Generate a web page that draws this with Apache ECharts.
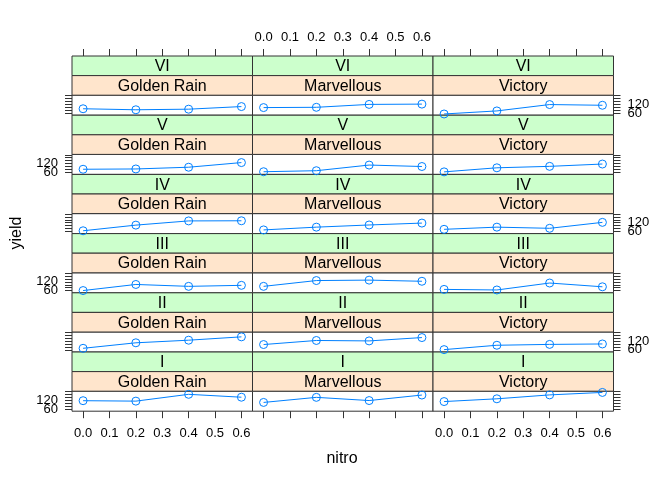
<!DOCTYPE html>
<html>
<head>
<meta charset="utf-8">
<script src="https://cdn.jsdelivr.net/npm/echarts@6/dist/echarts.min.js"></script>
<style>html,body{margin:0;padding:0;background:#fff;}#c{width:672px;height:480px;}</style>
</head>
<body>
<div id="c"></div>
<script>
// Data (Oats: yield by nitrogen, variety and block)
const nitro = [0.0, 0.2, 0.4, 0.6];
const blocks = ['I', 'II', 'III', 'IV', 'V', 'VI'];
const varieties = ['Golden Rain', 'Marvellous', 'Victory'];
// per block I..VI, values at nitro 0.0, 0.2, 0.4, 0.6
const goldenRain = [[117, 114, 161, 141], [70, 108, 126, 149], [60, 102, 89, 96], [64, 103, 132, 133], [80, 82, 94, 126], [89, 82, 86, 104]];
const marvellous = [[105, 140, 118, 156], [96, 124, 121, 144], [89, 129, 132, 124], [70, 89, 104, 117], [63, 70, 109, 99], [97, 99, 119, 121]];
const victory = [[111, 130, 157, 174], [61, 91, 97, 100], [68, 64, 112, 86], [74, 89, 81, 122], [62, 90, 100, 116], [53, 74, 118, 113]];
const xTicks = [0.0, 0.1, 0.2, 0.3, 0.4, 0.5, 0.6];
const yTicks = [60, 80, 100, 120, 140, 160, 180];
const yTickLabels = [60, 120];

const values = [goldenRain, marvellous, victory];
const FONT = 'Liberation Sans, Arial, Helvetica, sans-serif';
const L = 72, W = 180.5, T = 56, H = 59.2, S = 19.6, P = 20;
const xMin = -0.042, xMax = 0.642, yMin = 44.53, yMax = 182.47;
const dark = '#333333';

const grids = [], xAxes = [], yAxes = [], series = [], graphics = [];

function yAxisFor(g, pos, showTicks, labelVals) {
  return {
    gridIndex: g, type: 'value', min: yMin, max: yMax, position: pos,
    axisLine: { show: false, onZero: false }, splitLine: { show: false },
    axisTick: { show: showTicks, customValues: yTicks, length: 7, lineStyle: { color: dark } },
    axisLabel: { show: labelVals.length > 0, customValues: labelVals.length ? labelVals : yTicks, hideOverlap: false, margin: 14, fontSize: 13, color: '#000', fontFamily: FONT }
  };
}

blocks.forEach((b, r) => {
  const k = blocks.length - 1 - r;
  const rowTop = T + k * H;
  varieties.forEach((v, c) => {
    const g = grids.length;
    const left = L + c * W;
    grids.push({ left: left, top: rowTop + 2 * S, width: W, height: P, show: true, borderColor: dark, borderWidth: 1, backgroundColor: '#fff' });
    const xi = xAxes.length;
    xAxes.push({
      gridIndex: g, type: 'value', min: xMin, max: xMax, position: 'bottom',
      axisLine: { show: false, onZero: false }, splitLine: { show: false },
      axisTick: { show: r === 0, customValues: xTicks, length: 7, lineStyle: { color: dark } },
      axisLabel: { show: r === 0 && c !== 1, customValues: xTicks, hideOverlap: false, formatter: (x) => x.toFixed(1), margin: 16, fontSize: 13, color: '#000', fontFamily: FONT }
    });
    if (r === blocks.length - 1) {
      xAxes.push({
        gridIndex: g, type: 'value', min: xMin, max: xMax, position: 'top', offset: 2 * S,
        axisLine: { show: false, onZero: false }, splitLine: { show: false },
        axisTick: { show: true, customValues: xTicks, length: 7, lineStyle: { color: dark } },
        axisLabel: { show: c === 1, customValues: xTicks, hideOverlap: false, formatter: (x) => x.toFixed(1), margin: 12, fontSize: 13, color: '#000', fontFamily: FONT }
      });
    }
    const yi = yAxes.length;
    const leftLabels = (c === 0 && r % 2 === 0);
    yAxes.push(yAxisFor(g, 'left', c === 0, leftLabels ? [yTickLabels[0]] : []));
    if (leftLabels) yAxes.push(yAxisFor(g, 'left', false, [yTickLabels[1]]));
    if (c === varieties.length - 1) {
      const rightLabels = r % 2 === 1;
      yAxes.push(yAxisFor(g, 'right', true, rightLabels ? [yTickLabels[0]] : []));
      if (rightLabels) yAxes.push(yAxisFor(g, 'right', false, [yTickLabels[1]]));
    }
    series.push({
      type: 'line', xAxisIndex: xi, yAxisIndex: yi,
      data: nitro.map((n, i) => [n, values[c][r][i]]),
      symbol: 'circle', symbolSize: 8, clip: false,
      itemStyle: { color: 'rgba(255,255,255,0)', borderColor: '#0080ff', borderWidth: 1 },
      lineStyle: { color: '#0080ff', width: 1 },
      animation: false, silent: true
    });
    // strips
    graphics.push({ type: 'rect', shape: { x: left, y: rowTop, width: W, height: S }, style: { fill: '#ccffcc', stroke: dark, lineWidth: 1 } });
    graphics.push({ type: 'text', style: { text: b, x: left + W / 2, y: rowTop + S / 2 + 1, textAlign: 'center', textVerticalAlign: 'middle', font: '16px ' + FONT, fill: '#000' } });
    graphics.push({ type: 'rect', shape: { x: left, y: rowTop + S, width: W, height: S }, style: { fill: '#ffe5cc', stroke: dark, lineWidth: 1 } });
    graphics.push({ type: 'text', style: { text: v, x: left + W / 2, y: rowTop + 1.5 * S + 1, textAlign: 'center', textVerticalAlign: 'middle', font: '16px ' + FONT, fill: '#000' } });
  });
});
graphics.push({ type: 'text', style: { text: 'nitro', x: 342, y: 459, textAlign: 'center', textVerticalAlign: 'middle', font: '16px ' + FONT, fill: '#000' } });
graphics.push({ type: 'text', rotation: Math.PI / 2, x: 17, y: 233, style: { text: 'yield', x: 0, y: 0, textAlign: 'center', textVerticalAlign: 'middle', font: '16px ' + FONT, fill: '#000' } });

const chart = echarts.init(document.getElementById('c'), null, { renderer: 'canvas' });
chart.setOption({
  animation: false,
  backgroundColor: '#fff',
  grid: grids, xAxis: xAxes, yAxis: yAxes, series: series,
  graphic: graphics
});
</script>
</body>
</html>
